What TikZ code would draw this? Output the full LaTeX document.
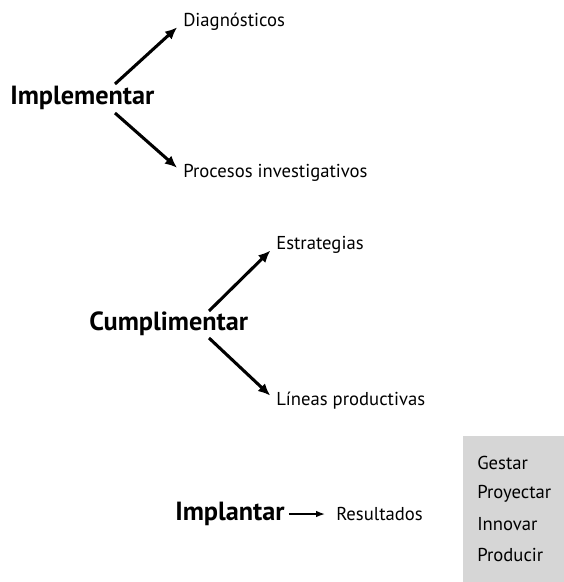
\documentclass[tikz,border=0pt]{standalone}
\usepackage{fontspec}
\setmainfont{PT Sans}
\usetikzlibrary{positioning,arrows.meta}

\definecolor{boxgray}{HTML}{D6D6D6}

\tikzset{
    verb/.style={font=\fontsize{19.7}{24}\selectfont\bfseries, inner sep=0pt, anchor=west},
    item/.style={font=\fontsize{14}{16}\selectfont, inner sep=0pt, anchor=west},
    link/.style={-{Latex[length=9pt,width=8pt]}, line width=2.3pt, shorten >=6pt},
    shortlink/.style={-{Latex[length=7pt,width=5pt]}, line width=1.6pt},
}

\begin{document}
\begin{tikzpicture}[x=0.75pt,y=-0.75pt]
    \useasboundingbox (0,0) rectangle (564,582);

    % first group
    \node[verb] (impl) at (10,98) {Implementar};
    \node[item] (diag) at (183,22) {Diagnósticos};
    \node[item] (proc) at (183,173) {Procesos investigativos};
    \coordinate (impl-up) at (115,84);
    \coordinate (impl-dn) at (115,113);
    \draw[link] (impl-up) -- (diag.west);
    \draw[link] (impl-dn) -- (proc.west);

    % second group
    \node[verb] (cump) at (89,324) {Cumplimentar};
    \node[item] (estr) at (276,245) {Estrategias};
    \node[item] (line) at (276,401) {Líneas productivas};
    \coordinate (cump-up) at (209,311);
    \coordinate (cump-dn) at (209,338);
    \draw[link] (cump-up) -- (estr.west);
    \draw[link] (cump-dn) -- (line.west);

    % third group
    \node[verb] (impt) at (175,514) {Implantar};
    \node[item] (resu) at (336,514) {Resultados};
    \draw[shortlink] ([xshift=3pt]impt.east) -- ([xshift=-8pt]resu.west);

    % side box
    \fill[boxgray] (463,436) rectangle (564,582);
    \node[item] (gest) at (477,463) {Gestar};
    \node[item] (proy) at (477,494) {Proyectar};
    \node[item] (inno) at (477,524) {Innovar};
    \node[item] (prod) at (477,555) {Producir};
\end{tikzpicture}
\end{document}
